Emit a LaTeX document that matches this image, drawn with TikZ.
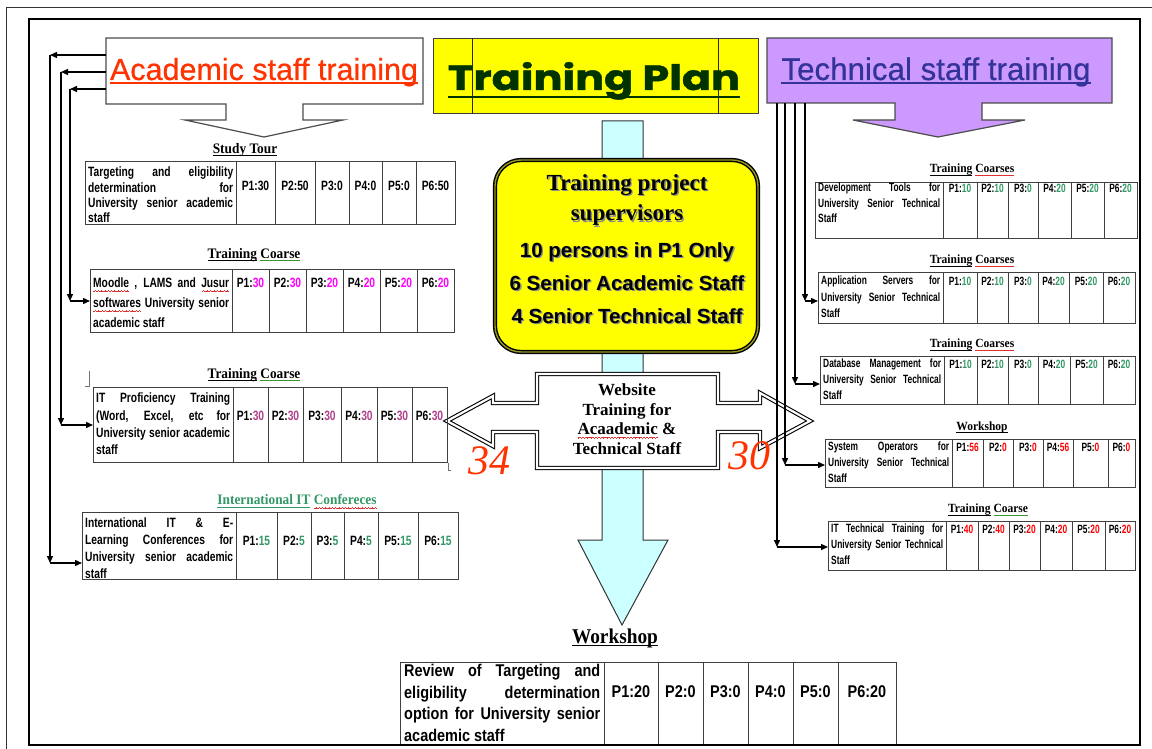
\documentclass[tikz,border=0pt]{standalone}
\usepackage{fontspec}
\usetikzlibrary{arrows.meta}
\setmainfont{Liberation Serif}
\newfontfamily\hdsans{Liberation Sans}
\newfontfamily\headsans[FakeBold=0.6]{Liberation Sans}
\newfontfamily\nsans[FakeStretch=0.76]{Liberation Sans}
\newfontfamily\tsans[FakeStretch=0.7]{Liberation Sans}
\newfontfamily\wsans[FakeStretch=0.85]{Liberation Sans}
\newfontfamily\nserif[FakeStretch=0.92]{Liberation Serif}
\newfontfamily\roundf[FakeBold=1.2]{Poppins}

\definecolor{acadred}{HTML}{FF3300}
\definecolor{plangreen}{HTML}{003300}
\definecolor{techblue}{HTML}{333399}
\definecolor{techfill}{HTML}{CC99FF}
\definecolor{planyellow}{HTML}{FFFF00}
\definecolor{shaftcyan}{HTML}{CCFFFF}
\definecolor{valmag}{HTML}{FF00FF}
\definecolor{valpurple}{HTML}{B0408A}
\definecolor{valgreen}{HTML}{339966}
\definecolor{valred}{HTML}{FF0000}
\definecolor{spellred}{HTML}{E03030}
\definecolor{gramgreen}{HTML}{339933}
\definecolor{rimolive}{RGB}{150,150,40}

% coloured straight and wavy underlines (built from rules)
\newlength\ulw
\newcommand\culine[2]{\settowidth\ulw{#2}\rlap{\textcolor{#1}{\rule[-2.6pt]{\ulw}{0.9pt}}}#2}
\newcommand\wavebit{\hbox{\rule[-3.9pt]{0.8pt}{0.7pt}\rule[-3.4pt]{0.8pt}{0.7pt}\rule[-2.9pt]{0.8pt}{0.7pt}\rule[-3.4pt]{0.8pt}{0.7pt}}}
\newcommand\spellwave[1]{\settowidth\ulw{#1}\rlap{\smash{\textcolor{spellred}{\xleaders\wavebit\hskip\ulw}}}#1}
% text with a soft grey drop shadow
\newcommand\shadowed[1]{\makebox[0pt][l]{\kern1.4pt\raisebox{-1.4pt}{\textcolor{black!45}{#1}}}#1}

\tikzset{
  calloutbox/.style={draw=black!70, line width=1.2pt},
  tbl/.style={draw=black!75, line width=1.1pt, inner sep=0pt, anchor=north west},
  tblrule/.style={draw=black!75, line width=0.9pt},
  conn/.style={draw=black, line width=1.4pt, -{Triangle[length=7pt,width=6pt]}},
  ltitle/.style={font=\nserif\bfseries\fontsize{14.5}{16}\selectfont, inner sep=0pt},
  rtitle/.style={font=\nserif\bfseries\fontsize{12.5}{14}\selectfont, inner sep=0pt},
  ldesc/.style={font=\nsans\bfseries\fontsize{13.5}{#1}\selectfont, align=justify, inner sep=0pt, anchor=north west},
  rdesc/.style={font=\tsans\bfseries\fontsize{12}{#1}\selectfont, align=justify, inner sep=0pt, anchor=north west},
  bdesc/.style={font=\wsans\bfseries\fontsize{17}{#1}\selectfont, align=justify, inner sep=0pt, anchor=north west},
  lval/.style={font=\nsans\bfseries\fontsize{13.5}{15}\selectfont, inner sep=0pt},
  rval/.style={font=\tsans\bfseries\fontsize{12}{14}\selectfont, inner sep=0pt},
  bval/.style={font=\wsans\bfseries\fontsize{17}{19}\selectfont, inner sep=0pt},
}

% column rules and period figures of a table: #1 table, #2 y, #3 style, #4 colour, #5 columns
\newcommand\pcols[5]{%
  \foreach \ca/\cb/\cv [count=\k] in {#5} {
    \draw[tblrule] (#1.north -| \ca,0) -- (#1.south -| \ca,0);
    \node[#3] (#1-p\k) at ({(\ca+\cb)/2},#2) {P\k:\textcolor{#4}{\cv}};
  }}

\begin{document}
\begin{tikzpicture}[x=1pt,y=-1pt]
\useasboundingbox (0,0) rectangle (1152,749);
\fill[white] (0,0) rectangle (1152,749);

% page frames
\draw[black!80, line width=1pt] (6.5,7.5) rectangle (1170,770);
\draw[black, line width=2pt] (28.5,19.5) rectangle (1140,745);

% central down arrow
\draw[black!80, line width=1pt, fill=shaftcyan] (602,121) -- (643,121) -- (643,540) -- (668,540) -- (622,625) -- (578,540) -- (602,540) -- cycle;

% title
\node[draw=black!85, line width=1pt, fill=planyellow, minimum width=325pt, minimum height=75pt, tbl] (plan) at (433,38) {};
\draw[black!85, line width=1pt] (plan.north -| 472,0) -- (plan.south -| 472,0);
\draw[black!85, line width=1pt] (plan.north -| 718,0) -- (plan.south -| 718,0);
\node[anchor=base, inner sep=0pt, text=plangreen] (plan-l) at (594,90) {\resizebox{292pt}{28pt}{\roundf\bfseries Training Plan}};
\draw[plangreen, line width=2.2pt] ([yshift=-7pt]plan-l.base west) -- ([yshift=-7pt]plan-l.base east);

% supervisors box
\node[draw=black, line width=1.4pt, double=rimolive, double distance=1.4pt, fill=planyellow, rounded corners=26pt, minimum width=263pt, minimum height=192pt, inner sep=0pt] (sup) at (626.5,256) {};
\node[anchor=base, inner sep=0pt, font=\bfseries\fontsize{23}{23}\selectfont] (sup-1) at (627,190) {\shadowed{Training project}};
\node[anchor=base, inner sep=0pt, font=\bfseries\fontsize{23}{23}\selectfont] (sup-2) at (627,221) {\shadowed{supervisors}};
\node[anchor=base, inner sep=0pt, font=\hdsans\bfseries\fontsize{20.5}{20.5}\selectfont] (sup-3) at (627,257) {\shadowed{10 persons in P1 Only}};
\node[anchor=base, inner sep=0pt, font=\hdsans\bfseries\fontsize{20.5}{20.5}\selectfont] (sup-4) at (627,290) {\shadowed{6 Senior Academic Staff}};
\node[anchor=base, inner sep=0pt, font=\hdsans\bfseries\fontsize{20.5}{20.5}\selectfont] (sup-5) at (627,323) {\shadowed{4 Senior Technical Staff}};

% website double arrow
\draw[black, line width=1.1pt, double=white, double distance=2.2pt, fill=white] (447,421) -- (493,396) -- (493,403) -- (537,403) -- (537,374) -- (718,374) -- (718,403) -- (760,403) -- (760,393) -- (810,421) -- (760,448) -- (760,432) -- (718,432) -- (718,468) -- (537,468) -- (537,432) -- (493,432) -- (493,446) -- cycle;
\node[font=\bfseries\fontsize{17}{19.5}\selectfont, align=center, inner sep=0pt] (web) at (627,419) {Website\\Training for\\\spellwave{Acaademic} \&\\Technical Staff};
\node[text=acadred, font=\itshape\fontsize{42}{42}\selectfont, inner sep=0pt] (n34) at (489,461) {34};
\node[text=acadred, font=\itshape\fontsize{42}{42}\selectfont, inner sep=0pt] (n30) at (749,456) {30};

% academic header callout
\draw[calloutbox, fill=white] (106,38) -- (423,38) -- (423,104) -- (303,104) -- (303,120) -- (343,120) -- (264,137) -- (185,120) -- (226,120) -- (226,104) -- (106,104) -- cycle;
\node[inner sep=0pt, minimum width=317pt, minimum height=66pt, anchor=north west] (acad) at (106,38) {};
\node[anchor=base, inner sep=0pt, text=acadred, font=\headsans\fontsize{30.5}{30.5}\selectfont] (acad-l) at (264,80) {Academic staff training};
\draw[acadred, line width=2pt] ([yshift=-3pt]acad-l.base west) -- ([yshift=-3pt]acad-l.base east);

% technical header callout
\draw[calloutbox, fill=techfill] (767,38) -- (1112,38) -- (1112,103) -- (982,103) -- (982,120) -- (1025,120) -- (938,137) -- (853,120) -- (895,120) -- (895,103) -- (767,103) -- cycle;
\node[inner sep=0pt, minimum width=345pt, minimum height=65pt, anchor=north west] (tech) at (767,38) {};
\node[anchor=base, inner sep=0pt, text=techblue, font=\headsans\fontsize{31.3}{31.3}\selectfont] (tech-l) at (936,80) {Technical staff training};
\draw[techblue, line width=2pt] ([yshift=-3pt]tech-l.base west) -- ([yshift=-3pt]tech-l.base east);

% ---------- academic tables ----------
\node[ltitle] (st-t) at (245,150) {\culine{black}{Study Tour}};
\node[tbl, minimum width=370pt, minimum height=63pt] (st) at (85,161) {};
\node[ldesc=15.3, text width=145pt] (st-d) at (88,167) {Targeting and eligibility\linebreak determination for\linebreak University senior academic\linebreak staff};
\pcols{st}{186}{lval}{black}{236/275/30,275/315/50,315/349/0,349/382/0,382/416/0,416/455/50}

\node[ltitle] (mo-t) at (254,255) {\culine{black}{Training} \culine{gramgreen}{Coarse}};
\node[tbl, minimum width=364pt, minimum height=63pt] (mo) at (90,269) {};
\node[ldesc=20, text width=136pt] (mo-d) at (93,278) {\spellwave{Moodle} , LAMS and \spellwave{Jusur}\linebreak \spellwave{softwares} University senior\linebreak academic staff};
\pcols{mo}{283}{lval}{valmag}{232/269/30,269/306/30,306/343/20,343/380/20,380/417/20,417/454/20}

\node[ltitle] (itp-t) at (254,375) {\culine{black}{Training} \culine{gramgreen}{Coarse}};
\node[tbl, minimum width=354pt, minimum height=75pt] (itp) at (93,387) {};
\node[ldesc=17.3, text width=134pt] (itp-d) at (96,393) {IT Proficiency Training\linebreak (Word, Excel, etc for\linebreak University senior academic\linebreak staff};
\pcols{itp}{416}{lval}{valpurple}{233/268/30,268/303/30,303/341/30,341/377/30,377/412/30,412/447/30}
\draw[black!55, line width=0.6pt] (85,386) -- (89,386) -- (89,371);
\draw[black!55, line width=0.6pt] (448,463) -- (448,470) -- (451,470);

\node[ltitle, text=valgreen] (intl-t) at (297,501) {\culine{valgreen}{International IT} \spellwave{Confereces}};
\node[tbl, minimum width=376pt, minimum height=67pt] (intl) at (82,512) {};
\node[ldesc=16.7, text width=148pt] (intl-d) at (85,518) {International IT \& E-\linebreak Learning Conferences for\linebreak University senior academic\linebreak staff};
\pcols{intl}{541}{lval}{valgreen}{236/277/15,277/311/5,311/344/5,344/378/5,378/418/15,418/458/15}

% ---------- technical tables ----------
\node[rtitle] (dev-t) at (972,170) {\culine{black}{Training} \culine{spellred}{Coarses}};
\node[tbl, minimum width=322pt, minimum height=56pt] (dev) at (815,182) {};
\node[rdesc=15.5, text width=122pt] (dev-d) at (818,183) {Development Tools for\linebreak University Senior Technical\linebreak Staff};
\pcols{dev}{188}{rval}{valgreen}{943/977/10,977/1008/10,1008/1038/0,1038/1071/20,1071/1104/20,1104/1137/20}

\node[rtitle] (app-t) at (972,261) {\culine{black}{Training} \culine{spellred}{Coarses}};
\node[tbl, minimum width=317pt, minimum height=51pt] (app) at (818,272) {};
\node[rdesc=16.5, text width=119pt] (app-d) at (821,276) {Application Servers for\linebreak University Senior Technical\linebreak Staff};
\pcols{app}{281}{rval}{valgreen}{943/977/10,977/1008/10,1008/1038/0,1038/1069/20,1069/1103/20,1103/1135/20}

\node[rtitle] (db-t) at (972,345) {\culine{black}{Training} \culine{spellred}{Coarses}};
\node[tbl, minimum width=315pt, minimum height=48pt] (db) at (820,356) {};
\node[rdesc=16, text width=118pt] (db-d) at (823,359) {Database Management for\linebreak University Senior Technical\linebreak Staff};
\pcols{db}{364}{rval}{valgreen}{944/977/10,977/1008/10,1008/1038/0,1038/1070/20,1070/1103/20,1103/1135/20}

\node[rtitle] (wso-t) at (982,427) {\culine{black}{Workshop}};
\node[tbl, minimum width=310pt, minimum height=48pt] (wso) at (825,439) {};
\node[rdesc=16, text width=121pt] (wso-d) at (828,442) {System Operators for\linebreak University Senior Technical\linebreak Staff};
\pcols{wso}{447}{rval}{valred}{952/983/56,983/1013/0,1013/1043/0,1043/1073/56,1073/1108/0,1108/1135/0}

\node[rtitle] (itt-t) at (988,510) {\culine{black}{Training} \culine{gramgreen}{Coarse}};
\node[tbl, minimum width=307pt, minimum height=49pt] (itt) at (828,521) {};
\node[rdesc=16, text width=112pt] (itt-d) at (831,524) {IT Technical Training for\linebreak University Senior Technical\linebreak Staff};
\pcols{itt}{529}{rval}{valred}{946/978/40,978/1009/40,1009/1040/20,1040/1072/20,1072/1105/20,1105/1135/20}

% ---------- bottom workshop ----------
\node[font=\nserif\bfseries\fontsize{21}{23}\selectfont, inner sep=0pt] (ws-t) at (615,638) {\culine{black}{Workshop}};
\node[tbl, minimum width=496pt, minimum height=83pt] (ws) at (400,662) {};
\node[bdesc=21.5, text width=196pt] (ws-d) at (404,664) {Review of Targeting and\linebreak eligibility determination\linebreak option for University senior\linebreak academic staff};
\pcols{ws}{692}{bval}{black}{604/658/20,658/703/0,703/748/0,748/793/0,793/838/0,838/896/20}
\draw[black, line width=2pt] (28.5,745) -- (1140,745);

% ---------- connectors, academic side ----------
\coordinate (ka) at (50,55);  \coordinate (kb) at (50,563);
\coordinate (la) at (61,72);  \coordinate (lb) at (61,425);
\coordinate (ma) at (70,89);  \coordinate (mb) at (70,301);
\draw[conn] (acad.west |- ka) -- (ka);
\draw[conn] (acad.west |- la) -- (la);
\draw[conn] (acad.west |- ma) -- (ma);
\draw[conn] (ka) -- (kb);
\draw[conn] (la) -- (lb);
\draw[conn] (ma) -- (mb);
\draw[conn] (kb) -- (kb -| intl.west);
\draw[conn] (lb) -- (lb -| itp.west);
\draw[conn] (mb) -- (mb -| mo.west);

% ---------- connectors, technical side ----------
\coordinate (ra) at (805,301);
\coordinate (rb) at (795,384);
\coordinate (rc) at (785,465);
\coordinate (rd) at (777,547);
\draw[conn] (tech.south -| ra) -- (ra);
\draw[conn] (tech.south -| rb) -- (rb);
\draw[conn] (tech.south -| rc) -- (rc);
\draw[conn] (tech.south -| rd) -- (rd);
\draw[conn] (ra) -- (ra -| app.west);
\draw[conn] (rb) -- (rb -| db.west);
\draw[conn] (rc) -- (rc -| wso.west);
\draw[conn] (rd) -- (rd -| itt.west);
\end{tikzpicture}
\end{document}
